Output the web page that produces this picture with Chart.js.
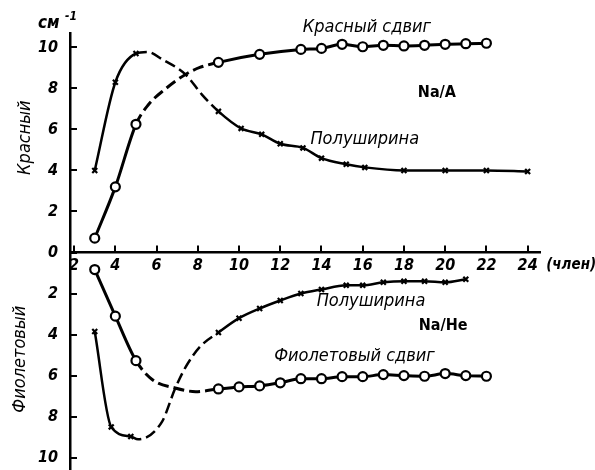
<!DOCTYPE html>
<html>
<head>
<meta charset="utf-8">
<script src="https://cdn.jsdelivr.net/npm/chart.js@4/dist/chart.umd.min.js"></script>
<style>
  html, body { margin: 0; padding: 0; background: #fff; }
  #wrap { width: 595px; height: 470px; }
</style>
</head>
<body>
<div id="wrap"><canvas id="chart" width="595" height="470"></canvas></div>
<script>
// tick labels
const xTicks = [2, 4, 6, 8, 10, 12, 14, 16, 18, 20, 22, 24];
const yTicks = [-10, -8, -6, -4, -2, 0, 2, 4, 6, 8, 10];

// Na/A, red shift (circles)
const redShiftX = [3, 4, 5, 9, 11, 13, 14, 15, 16, 17, 18, 19, 20, 21, 22];
const redShiftY = [0.7, 3.2, 6.25, 9.27, 9.66, 9.9, 9.95, 10.15, 10.03, 10.1, 10.07, 10.1, 10.15, 10.18, 10.2];
// dashed part of the curve between the measured points
const redShiftCurveX = [5.6, 6.4, 7.4, 8.1];
const redShiftCurveY = [7.2, 7.95, 8.68, 9.02];

// Na/A, half width (crosses)
const halfWidthAX = [3, 4, 5, 9, 10.1, 11.1, 12, 13.1, 14, 15.2, 16.1, 18, 20, 22, 24];
const halfWidthAY = [4.0, 8.3, 9.7, 6.88, 6.05, 5.76, 5.3, 5.1, 4.6, 4.3, 4.15, 4.0, 4.0, 4.0, 3.95];
const halfWidthACurveX = [5.55, 6.3, 7.4, 8.2];
const halfWidthACurveY = [9.78, 9.4, 8.68, 7.7];

// Na/He, violet shift (circles), plotted downwards
const violetShiftX = [3, 4, 5, 9, 10, 11, 12, 13, 14, 15, 16, 17, 18, 19, 20, 21, 22];
const violetShiftY = [-0.83, -3.1, -5.27, -6.65, -6.55, -6.5, -6.35, -6.15, -6.15, -6.05, -6.05, -5.95, -6.0, -6.03, -5.9, -6.0, -6.03];
const violetShiftCurveX = [5.8, 6.9, 7.9];
const violetShiftCurveY = [-6.2, -6.6, -6.78];

// Na/He, half width (crosses)
const halfWidthHeX = [3, 3.8, 4.75, 9, 10, 11, 12, 13, 14, 15.2, 16, 17, 18, 19, 20, 21];
const halfWidthHeY = [-3.85, -8.5, -8.97, -3.9, -3.2, -2.73, -2.34, -2.0, -1.8, -1.6, -1.6, -1.45, -1.4, -1.4, -1.45, -1.3];
const halfWidthHeCurveX = [5.1, 6.26, 6.9, 7.4, 8.1];
const halfWidthHeCurveY = [-9.1, -8.25, -6.63, -5.6, -4.6];

const FONT = "'Liberation Sans Narrow', 'DejaVu Sans Condensed', 'Liberation Sans', sans-serif";

function buildPoints(xs, ys, cx, cy) {
    const pts = xs.map((x, i) => ({ x: x, y: ys[i], m: true }))
        .concat(cx.map((x, i) => ({ x: x, y: cy[i], m: false })));
    return pts.sort((a, b) => a.x - b.x);
}

function makeSet(pts, style, width, dashFrom, dashTo) {
    const isCircle = style === 'circle';
    return {
        data: pts,
        showLine: true,
        borderColor: '#000',
        borderWidth: width,
        cubicInterpolationMode: 'monotone',
        pointStyle: style,
        pointRadius: c => (c.raw && c.raw.m) ? (isCircle ? 4.5 : 3.5) : 0,
        pointBackgroundColor: '#fff',
        pointBorderColor: '#000',
        pointBorderWidth: 2.2,
        segment: {
            borderDash: c => (c.p0.parsed.x >= dashFrom && c.p1.parsed.x <= dashTo) ? [11, 5] : undefined
        }
    };
}

// ticks pointing into the plot, annotations
const decor = {
    id: 'decor',
    afterDraw(chart) {
        const { ctx, scales: { x, y } } = chart;
        const y0 = y.getPixelForValue(0);
        const x0 = x.left;
        ctx.save();
        ctx.strokeStyle = '#000';
        ctx.lineWidth = 2;
        ctx.beginPath();
        xTicks.forEach(v => {
            const px = Math.round(x.getPixelForValue(v));
            ctx.moveTo(px, y0);
            ctx.lineTo(px, y0 - 7);
        });
        yTicks.forEach(v => {
            const py = Math.round(y.getPixelForValue(v));
            ctx.moveTo(x0, py);
            ctx.lineTo(x0 + 7, py);
        });
        ctx.stroke();

        ctx.fillStyle = '#000';
        ctx.textBaseline = 'middle';
        ctx.textAlign = 'center';
        const put = (txt, vx, vy, font) => {
            ctx.font = font;
            ctx.fillText(txt, x.getPixelForValue(vx), y.getPixelForValue(vy));
        };
        const it = 'italic 18px ' + FONT;
        put('Красный сдвиг', 16.2, 11.0, it);
        put('Полуширина', 16.1, 5.5, it);
        put('Полуширина', 16.4, -2.4, it);
        put('Фиолетовый сдвиг', 15.6, -5.07, it);
        const nb = 'bold 16px ' + FONT;
        put('Na/A', 19.6, 7.8, nb);
        put('Na/He', 19.9, -3.55, nb);

        ctx.textAlign = 'left';
        ctx.font = 'bold italic 15px ' + FONT;
        ctx.fillText('(член)', x.getPixelForValue(24.9), y.getPixelForValue(-0.63));

        ctx.font = 'bold italic 17px ' + FONT;
        ctx.fillText('см', 38, y.getPixelForValue(11.15));
        ctx.font = 'bold italic 12px ' + FONT;
        ctx.fillText('-1', 65, y.getPixelForValue(11.5));

        const vert = (txt, px, vy) => {
            ctx.save();
            ctx.translate(px, y.getPixelForValue(vy));
            ctx.rotate(-Math.PI / 2);
            ctx.textAlign = 'center';
            ctx.font = 'italic 18px ' + FONT;
            ctx.fillText(txt, 0, 0);
            ctx.restore();
        };
        vert('Красный', 25, 5.6);
        vert('Фиолетовый', 20, -5.2);
        ctx.restore();
    }
};

const tickFont = { family: FONT, size: 16, style: 'italic', weight: 'bold' };

new Chart(document.getElementById('chart').getContext('2d'), {
    type: 'scatter',
    data: {
        datasets: [
            makeSet(buildPoints(redShiftX, redShiftY, redShiftCurveX, redShiftCurveY), 'circle', 3, 5, 9),
            makeSet(buildPoints(halfWidthAX, halfWidthAY, halfWidthACurveX, halfWidthACurveY), 'crossRot', 2.5, 5, 9),
            makeSet(buildPoints(violetShiftX, violetShiftY, violetShiftCurveX, violetShiftCurveY), 'circle', 3, 5, 9),
            makeSet(buildPoints(halfWidthHeX, halfWidthHeY, halfWidthHeCurveX, halfWidthHeCurveY), 'crossRot', 2.5, 4.75, 9)
        ]
    },
    options: {
        responsive: false,
        animation: false,
        layout: { autoPadding: false, padding: { top: 33, right: 55, left: 0, bottom: 0 } },
        plugins: { legend: { display: false }, tooltip: { enabled: false } },
        scales: {
            x: {
                type: 'linear',
                min: 1.8,
                max: 24.6,
                position: { y: 0 },
                afterBuildTicks: s => { s.ticks = xTicks.map(v => ({ value: v })); },
                afterFit: s => { s.height = 0; s.paddingLeft = 0; s.paddingRight = 0; },
                grid: { display: false, drawTicks: false },
                border: { display: true, color: '#000', width: 2.5 },
                ticks: { color: '#000', font: tickFont, padding: 4, maxRotation: 0, autoSkip: false }
            },
            y: {
                type: 'linear',
                min: -10.6,
                max: 10.7,
                position: 'left',
                afterBuildTicks: s => { s.ticks = yTicks.map(v => ({ value: v })); },
                afterFit: s => { s.width = 70; s.paddingTop = 0; s.paddingBottom = 0; },
                grid: { display: false, drawTicks: false },
                border: { display: true, color: '#000', width: 2.5 },
                ticks: { color: '#000', font: tickFont, padding: 12, callback: v => String(Math.abs(v)) }
            }
        }
    },
    plugins: [decor]
});
</script>
</body>
</html>
